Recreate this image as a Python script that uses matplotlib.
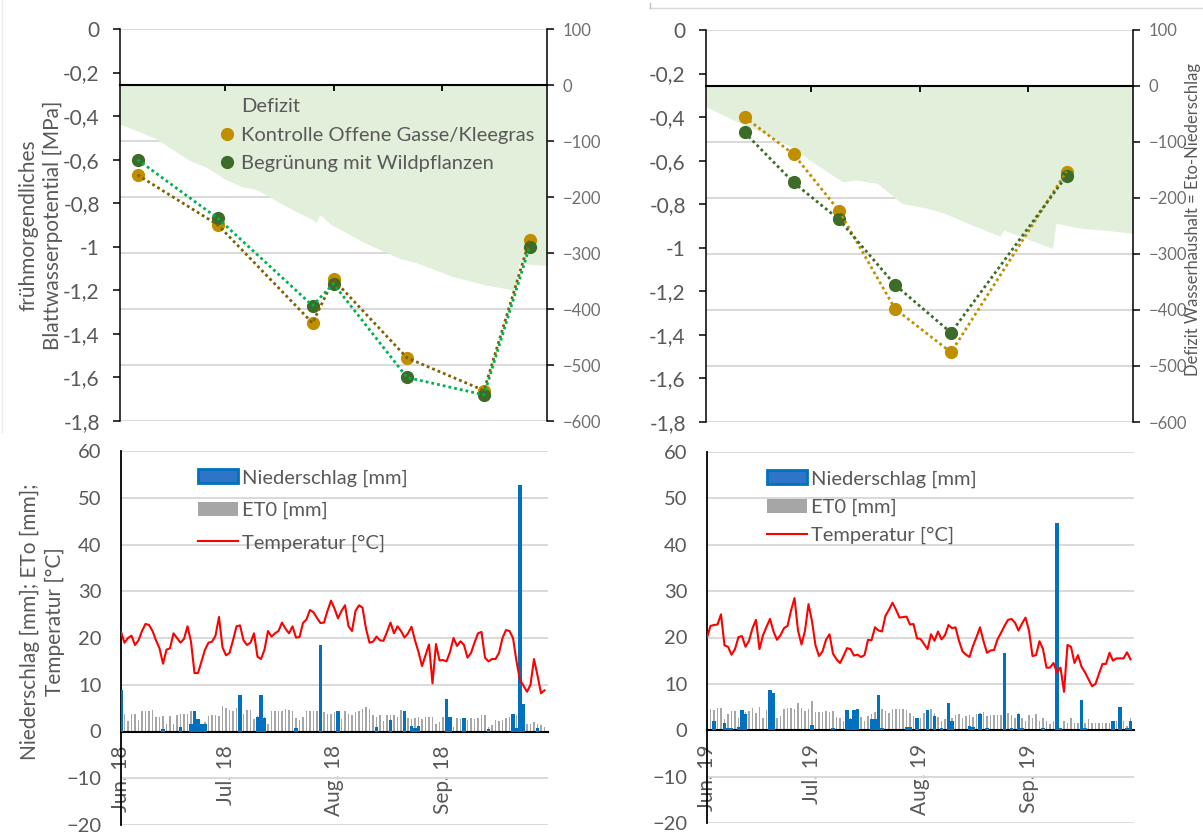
import matplotlib
matplotlib.use("Agg")
import matplotlib.pyplot as plt
from matplotlib.ticker import FixedLocator, FuncFormatter, MultipleLocator
from matplotlib.patches import Patch
from matplotlib.lines import Line2D
import pandas as pd

plt.rcParams['font.family'] = ['Lato', 'DejaVu Sans']

W, H = 1203, 836

# ---------------- data ----------------
lwp_dates_2018 = ['2018-06-06', '2018-06-29', '2018-07-26', '2018-08-01', '2018-08-22', '2018-09-13', '2018-09-26']
lwp_kontrolle_2018 = [-0.67, -0.90, -1.35, -1.15, -1.51, -1.66, -0.97]
lwp_begruenung_2018 = [-0.60, -0.87, -1.27, -1.17, -1.60, -1.68, -1.00]

lwp_dates_2019 = ['2019-06-12', '2019-06-26', '2019-07-09', '2019-07-25', '2019-08-10', '2019-09-12']
lwp_kontrolle_2019 = [-0.40, -0.57, -0.83, -1.28, -1.48, -0.65]
lwp_begruenung_2019 = [-0.47, -0.70, -0.87, -1.17, -1.39, -0.67]

deficit_dates_2018 = ['2018-06-01', '2018-06-06', '2018-06-11', '2018-06-16', '2018-06-21', '2018-06-23',
                      '2018-06-26', '2018-07-01', '2018-07-06', '2018-07-09', '2018-07-11', '2018-07-16',
                      '2018-07-21', '2018-07-26', '2018-07-27', '2018-07-28', '2018-07-29', '2018-07-31',
                      '2018-08-05', '2018-08-10', '2018-08-15', '2018-08-20', '2018-08-25', '2018-08-30',
                      '2018-09-04', '2018-09-09', '2018-09-14', '2018-09-19', '2018-09-22', '2018-09-23',
                      '2018-09-26', '2018-09-30', '2018-10-01']
deficit_2018 = [-70, -82, -95, -115, -135, -140, -148, -168, -182, -185, -190, -208, -225, -240, -246,
                -232, -236, -248, -265, -282, -296, -310, -318, -330, -342, -350, -358, -363, -367,
                -318, -320, -322, -322]

deficit_dates_2019 = ['2019-06-01', '2019-06-04', '2019-06-07', '2019-06-12', '2019-06-18', '2019-06-25',
                      '2019-07-02', '2019-07-10', '2019-07-14', '2019-07-20', '2019-07-27', '2019-08-03',
                      '2019-08-08', '2019-08-17', '2019-08-24', '2019-08-25', '2019-08-30', '2019-09-08',
                      '2019-09-09', '2019-09-16', '2019-09-22', '2019-10-01']
deficit_2019 = [-37, -46, -55, -70, -85, -108, -138, -171, -168, -174, -210, -218, -227, -251, -268,
                -257, -269, -290, -245, -254, -257, -263]

temp_2018 = [21.3, 19.0, 20.0, 20.5, 18.5, 19.5, 21.5, 23.0, 22.8, 21.5,
             19.5, 17.8, 14.5, 17.5, 17.8, 21.0, 20.0, 19.0, 19.8, 22.5,
             19.2, 12.5, 12.5, 15.0, 17.5, 19.0, 19.2, 20.5, 24.5, 18.0,
             16.3, 16.8, 19.5, 22.5, 22.7, 19.5, 18.5, 19.0, 21.0, 16.0,
             15.5, 17.5, 21.5, 20.3, 21.0, 21.5, 23.3, 22.0, 21.0, 22.5,
             20.1, 20.2, 23.2, 24.0, 26.0, 25.5, 24.3, 23.2, 23.3, 25.8,
             28.0, 26.3, 24.2, 25.8, 27.0, 22.5, 21.5, 25.8, 27.0, 26.5,
             22.0, 19.0, 19.2, 20.3, 19.5, 19.4, 21.3, 23.3, 21.0, 22.5,
             21.5, 20.1, 21.0, 22.4, 19.5, 17.0, 14.0, 16.3, 18.6, 10.3,
             18.7, 15.2, 15.3, 15.0, 17.0, 20.0, 18.3, 19.3, 18.5, 15.8,
             16.8, 19.0, 21.0, 21.3, 15.8, 15.0, 15.5, 15.5, 16.8, 20.0,
             21.7, 21.5, 20.0, 15.0, 11.0, 9.8, 8.5, 10.0, 15.5, 12.0,
             8.2, 8.8]
et0_2018 = [3.0, 3.8, 2.3, 3.7, 3.7, 2.4, 4.4, 4.4, 4.4, 4.5,
            3.1, 3.0, 3.4, 1.5, 3.4, 1.5, 3.6, 3.8, 3.8, 3.7,
            4.3, 4.4, 2.4, 1.7, 2.0, 3.3, 3.5, 3.5, 3.3, 5.4,
            5.0, 4.5, 4.3, 5.0, 5.0, 3.8, 4.5, 4.5, 2.7, 3.3,
            2.3, 3.1, 1.5, 4.3, 4.4, 4.4, 4.4, 4.8, 4.5, 4.4,
            2.9, 2.4, 3.1, 4.3, 4.4, 4.4, 4.4, 4.4, 4.1, 3.7,
            3.8, 4.1, 4.1, 2.7, 4.3, 3.8, 3.6, 4.1, 4.4, 4.8,
            5.2, 4.8, 3.6, 3.0, 3.6, 2.3, 3.6, 3.6, 3.6, 3.0,
            4.5, 3.1, 2.9, 2.7, 2.9, 3.0, 2.7, 3.1, 3.0, 3.1,
            1.5, 2.0, 3.0, 2.5, 2.4, 1.0, 2.9, 2.7, 2.7, 2.4,
            2.8, 2.7, 2.8, 3.6, 3.6, 0.9, 1.3, 2.4, 2.3, 2.4,
            2.8, 3.1, 3.0, 3.6, 2.5, 1.7, 1.5, 1.5, 2.0, 1.7,
            1.3, 1.0]
rain_dates_2018 = ['2018-06-01', '2018-06-13', '2018-06-18', '2018-06-21', '2018-06-22', '2018-06-23',
                   '2018-06-24', '2018-06-25', '2018-07-05', '2018-07-10', '2018-07-11', '2018-07-12',
                   '2018-07-21', '2018-07-28', '2018-08-02', '2018-08-13', '2018-08-17', '2018-08-21',
                   '2018-08-23', '2018-08-24', '2018-08-25', '2018-09-02', '2018-09-03', '2018-09-07',
                   '2018-09-14', '2018-09-21', '2018-09-22', '2018-09-23', '2018-09-24', '2018-09-28']
rain_2018 = [8.8, 0.5, 1.0, 1.6, 4.3, 2.7, 1.7, 1.7, 7.8, 3.2, 7.8, 2.9, 0.8, 18.4, 4.4, 0.9, 2.4, 4.4,
             1.1, 0.8, 1.1, 6.9, 3.1, 2.8, 0.5, 3.7, 0.8, 52.8, 5.8, 0.8]

temp_2019 = [20.0, 22.5, 22.7, 22.8, 25.0, 18.3, 18.0, 16.3, 17.5, 20.1,
             20.3, 18.0, 19.3, 22.0, 23.8, 17.5, 20.5, 22.3, 24.0, 21.3,
             19.5, 20.5, 22.0, 22.5, 25.8, 28.5, 21.5, 18.5, 21.5, 27.2,
             23.5, 18.3, 16.0, 17.0, 19.5, 20.7, 16.5, 15.3, 14.5, 16.0,
             17.7, 17.5, 16.1, 16.3, 15.8, 16.2, 19.5, 19.4, 22.2, 21.5,
             21.3, 24.7, 26.0, 27.5, 26.0, 24.3, 24.4, 24.5, 22.8, 22.9,
             19.8, 19.7, 18.6, 17.5, 20.7, 19.3, 21.3, 19.6, 20.5, 22.7,
             22.0, 22.2, 19.3, 17.0, 16.3, 15.8, 18.2, 20.1, 22.2, 19.2,
             16.7, 17.2, 17.3, 19.6, 21.0, 22.5, 23.8, 24.0, 23.2, 21.5,
             23.0, 24.3, 21.5, 16.0, 16.2, 19.2, 17.5, 13.5, 13.5, 14.5,
             12.5, 13.5, 8.3, 18.4, 18.0, 14.5, 16.2, 13.7, 12.5, 11.0,
             9.5, 10.0, 12.2, 14.3, 14.3, 16.7, 15.0, 15.5, 15.5, 15.5,
             16.8, 15.3]
et0_2019 = [4.5, 4.5, 4.3, 4.9, 4.9, 2.4, 3.4, 4.1, 4.1, 2.7,
            4.0, 4.0, 4.1, 4.9, 3.8, 5.0, 2.7, 4.3, 4.9, 4.5,
            2.7, 3.1, 4.5, 4.9, 4.9, 4.5, 5.9, 4.9, 4.1, 4.5,
            6.3, 4.0, 4.0, 4.0, 4.1, 4.0, 4.1, 2.9, 2.6, 2.1,
            3.8, 2.6, 3.8, 3.4, 2.9, 2.1, 3.1, 3.6, 4.0, 3.8,
            4.5, 4.1, 3.8, 4.6, 4.6, 4.6, 4.6, 4.3, 3.8, 3.1,
            2.4, 2.7, 3.8, 2.4, 4.5, 3.8, 2.9, 2.1, 2.4, 4.3,
            2.7, 3.3, 3.6, 2.6, 3.1, 3.3, 2.9, 3.4, 3.8, 4.0,
            3.1, 3.3, 3.3, 3.3, 3.3, 3.3, 3.8, 3.3, 2.6, 3.8,
            2.6, 2.1, 3.3, 2.7, 3.4, 2.1, 2.7, 2.1, 1.4, 2.0,
            1.6, 0.4, 2.1, 1.6, 2.6, 1.6, 1.6, 2.0, 1.6, 2.4,
            1.6, 1.6, 1.6, 1.6, 1.6, 1.6, 1.6, 1.9, 1.6, 2.0,
            0.9, 2.6]
rain_dates_2019 = ['2019-06-03', '2019-06-06', '2019-06-07', '2019-06-08', '2019-06-10', '2019-06-11',
                   '2019-06-12', '2019-06-19', '2019-06-20', '2019-07-01', '2019-07-07', '2019-07-11',
                   '2019-07-12', '2019-07-13', '2019-07-14', '2019-07-18', '2019-07-19', '2019-07-20',
                   '2019-07-21', '2019-07-28', '2019-07-29', '2019-07-31', '2019-08-03', '2019-08-05',
                   '2019-08-07', '2019-08-09', '2019-08-10', '2019-08-15', '2019-08-16', '2019-08-18',
                   '2019-08-20', '2019-08-25', '2019-08-27', '2019-08-29', '2019-08-30', '2019-09-05',
                   '2019-09-09', '2019-09-10', '2019-09-16', '2019-09-17', '2019-09-25', '2019-09-27',
                   '2019-09-29', '2019-09-30']
rain_2019 = [2.0, 1.6, 0.4, 0.4, 0.7, 4.4, 3.6, 8.6, 8.1, 1.1, 0.4, 4.3, 2.4, 4.3, 4.5, 2.4, 2.4, 7.6,
             0.4, 0.6, 0.6, 2.6, 4.4, 3.1, 0.4, 5.9, 2.0, 0.9, 0.6, 3.6, 0.4, 16.6, 0.4, 3.6, 0.4, 0.4,
             44.6, 0.4, 6.6, 0.4, 1.9, 5.0, 0.4, 2.0]

month_labels_2018 = ['Jun. 18', 'Jul. 18', 'Aug. 18', 'Sep. 18']
month_labels_2019 = ['Jun. 19', 'Jul. 19', 'Aug. 19', 'Sep. 19']
lwp_ticks = [0, -0.2, -0.4, -0.6, -0.8, -1.0, -1.2, -1.4, -1.6, -1.8]
deficit_ticks = [100, 0, -100, -200, -300, -400, -500, -600]

legend_top = ['Defizit', 'Kontrolle Offene Gasse/Kleegras', 'Begrünung mit Wildpflanzen']
legend_bottom = ['Niederschlag [mm]', 'ET0 [mm]', 'Temperatur [°C]']

# ---------------- styling ----------------
GOLD = '#bf8f00'
DGREEN = '#3d6b28'
FILL = '#e2efda'
GRID = '#d9d9d9'
TXT = '#595959'
BLUE = '#0070c0'
GRAY = '#a6a6a6'
LEG_FS = 14.5
TICK_FS = 15

fig = plt.figure(figsize=(W / 100, H / 100), dpi=100)


def add_ax(x0, y0, x1, y1):
    return fig.add_axes([x0 / W, 1 - y1 / H, (x1 - x0) / W, (y1 - y0) / H])


def comma(v, pos=None):
    s = f"{v:.1f}".rstrip('0').rstrip('.')
    if s == '-0':
        s = '0'
    return s.replace('.', ',')


def month_starts(year):
    return pd.to_datetime([f'{year}-06-01', f'{year}-07-01', f'{year}-08-01', f'{year}-09-01'])


def top_panel(box, year, pdates, kon, beg, ddates, dvals, kon_lc, beg_lc, show_legend):
    ax = add_ax(*box)
    ax2 = ax.twinx()
    ax.set_zorder(3)
    ax2.set_zorder(2)
    ax.patch.set_visible(False)
    start, end = pd.Timestamp(f'{year}-06-01'), pd.Timestamp(f'{year}-10-01')
    ax.set_xlim(start, end)
    ax.set_ylim(-1.8, 0)
    ax2.set_ylim(-600, 100)

    ax2.fill_between(pd.to_datetime(ddates), dvals, 0, color=FILL, linewidth=0, zorder=1)
    ax2.set_axisbelow(True)
    ax2.yaxis.set_major_locator(FixedLocator(deficit_ticks))
    ax2.grid(axis='y', color=GRID, linewidth=1.4)
    ax2.tick_params(axis='y', direction='out', length=5, width=1.1, pad=6.5, labelsize=12,
                    labelcolor='#6f6f6f', color='black')
    for s in ['top', 'bottom', 'left']:
        ax2.spines[s].set_visible(False)
    ax2.spines['right'].set_linewidth(1.1)

    pd_ = pd.to_datetime(pdates)
    ax.plot(pd_, kon, ls='none', marker='o', ms=8.5, color=GOLD, zorder=3)
    ax.plot(pd_, beg, ls='none', marker='o', ms=8.5, color=DGREEN, zorder=4)
    ax.plot(pd_, kon, ls=(0, (1, 1.1)), lw=2.0, color=kon_lc, zorder=5)
    ax.plot(pd_, beg, ls=(0, (1, 1.1)), lw=2.0, color=beg_lc, zorder=6)

    ax.yaxis.set_major_locator(FixedLocator(lwp_ticks))
    ax.yaxis.set_major_formatter(FuncFormatter(comma))
    ax.tick_params(axis='y', direction='out', length=5, width=1.1, pad=9.5, labelsize=TICK_FS,
                   labelcolor=TXT, color='black')
    ax.set_xticks(month_starts(year)[1:])
    ax.tick_params(axis='x', direction='out', length=4, width=1.3, labelbottom=False, color='black')
    for s in ['top', 'right']:
        ax.spines[s].set_visible(False)
    ax.spines['bottom'].set_position(('axes', 6 / 7))
    ax.spines['bottom'].set_linewidth(1.5)
    ax.spines['left'].set_linewidth(1.1)

    if show_legend:
        handles = [Patch(facecolor=FILL, edgecolor='none'),
                   Line2D([], [], ls='none', marker='o', ms=8.5, color=GOLD),
                   Line2D([], [], ls='none', marker='o', ms=8.5, color=DGREEN)]
        ax.legend(handles, legend_top, loc='upper left', bbox_to_anchor=(0.232, 0.823), frameon=False,
                  fontsize=LEG_FS, labelcolor=TXT, handlelength=0.8, handletextpad=0.3, borderpad=0,
                  borderaxespad=0, labelspacing=0.56)
    return ax, ax2


def bottom_panel(box, year, et0, rdates, rvals, temp, labels, anchor, lspacing):
    ax = add_ax(*box)
    days = pd.date_range(f'{year}-06-01', f'{year}-09-30')
    start, end = pd.Timestamp(f'{year}-06-01'), pd.Timestamp(f'{year}-10-01')
    ax.bar(days, et0, width=0.5, color=GRAY, linewidth=0, zorder=2)
    ax.bar(pd.to_datetime(rdates), rvals, width=0.9, color=BLUE, linewidth=0, zorder=3)
    ax.plot(days, temp, color='#ff0000', lw=1.5, zorder=4)
    ax.set_xlim(start, end)
    ax.set_ylim(-20, 60)
    ax.yaxis.set_major_locator(MultipleLocator(10))
    ax.grid(axis='y', color=GRID, linewidth=1.4)
    ax.set_axisbelow(True)
    for s in ['top', 'right']:
        ax.spines[s].set_visible(False)
    ax.spines['bottom'].set_position(('data', 0))
    ax.spines['bottom'].set_linewidth(1.5)
    ax.spines['left'].set_linewidth(1.3)
    ax.set_xticks(month_starts(year))
    ax.set_xticklabels(labels, rotation=90)
    ax.tick_params(axis='x', length=0, pad=10, labelsize=TICK_FS, labelcolor=TXT)
    ax.tick_params(axis='y', length=0, pad=14, labelsize=14.5, labelcolor=TXT)

    handles = [Patch(facecolor='#2e75c8', edgecolor=BLUE, linewidth=2),
               Patch(facecolor=GRAY, edgecolor='none'),
               Line2D([], [], color='#ff0000', lw=1.5)]
    ax.legend(handles, legend_bottom, loc='upper left', bbox_to_anchor=anchor, frameon=False,
              fontsize=LEG_FS, labelcolor=TXT, handlelength=2.0, handleheight=0.7, handletextpad=0.2,
              borderpad=0, borderaxespad=0, labelspacing=lspacing)
    return ax


top_panel((120, 29, 547, 421), 2018, lwp_dates_2018, lwp_kontrolle_2018, lwp_begruenung_2018,
          deficit_dates_2018, deficit_2018, '#7f6000', '#00b050', True)
top_panel((706, 30, 1133, 422), 2019, lwp_dates_2019, lwp_kontrolle_2019, lwp_begruenung_2019,
          deficit_dates_2019, deficit_2019, GOLD, DGREEN, False)

bottom_panel((121, 451, 548, 825), 2018, et0_2018, rain_dates_2018, rain_2018, temp_2018,
             month_labels_2018, (0.18, 0.951), 0.75)
bottom_panel((707, 452, 1134, 823), 2019, et0_2019, rain_dates_2019, rain_2019, temp_2019,
             month_labels_2019, (0.14, 0.951), 0.55)

fig.text(40.5 / W, 1 - 225 / H, 'frühmorgendliches\nBlattwasserpotential [MPa]', rotation=90,
         ha='center', va='center', multialignment='center', fontsize=15, color=TXT, linespacing=1.25)
fig.text(42 / W, 1 - 622 / H, 'Niederschlag [mm]; ETo [mm];\nTemperatur [°C]', rotation=90,
         ha='center', va='center', multialignment='center', fontsize=15, color=TXT, linespacing=1.3)
fig.text(1193 / W, 1 - 220 / H, 'Defizit Wasserhaushalt = Eto-Niederschlag', rotation=90,
         ha='center', va='center', fontsize=12, color=TXT)

# faint chart-area borders
fig.add_artist(Line2D([650 / W, 1.0], [1 - 8 / H, 1 - 8 / H], color='#d9d9d9', lw=1))
fig.add_artist(Line2D([650 / W, 650 / W], [1 - 3 / H, 1 - 8 / H], color='#bfbfbf', lw=1))
fig.add_artist(Line2D([2 / W, 2 / W], [1 - 0 / H, 1 - 432 / H], color='#ececec', lw=1))

fig.savefig('out.png', dpi=100)
